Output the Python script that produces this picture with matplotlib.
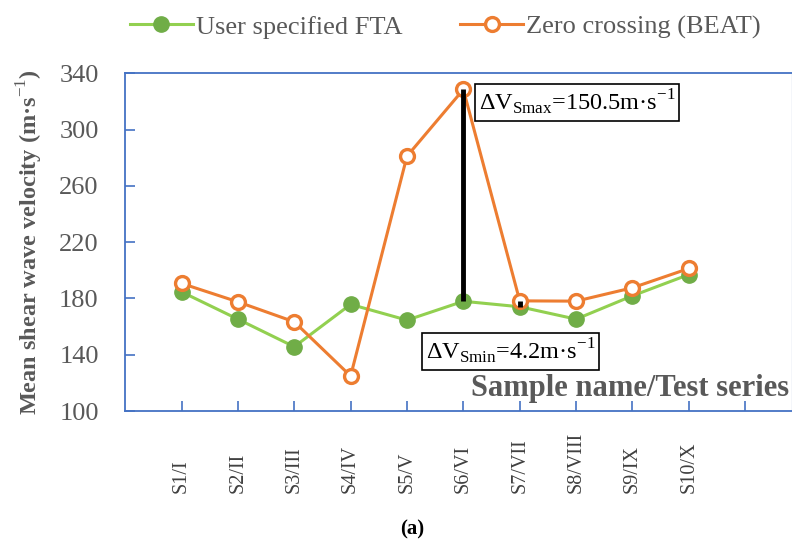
"""Mean shear wave velocity per sample -> out.png."""
import matplotlib
matplotlib.use('Agg')
import matplotlib.pyplot as plt

plt.rcParams['font.family'] = ['Liberation Serif', 'DejaVu Serif']
plt.rcParams['mathtext.fontset'] = 'custom'
plt.rcParams['mathtext.rm'] = 'Liberation Serif'

samples = ['S1/I', 'S2/II', 'S3/III', 'S4/IV', 'S5/V', 'S6/VI', 'S7/VII', 'S8/VIII', 'S9/IX', 'S10/X']
fta = [184.7, 165.3, 145.7, 175.8, 164.6, 178.0, 174.1, 165.3, 181.9, 197.0]
beat = [190.7, 177.6, 163.4, 124.9, 281.1, 328.5, 178.3, 178.1, 187.6, 201.3]
yticks = [100, 140, 180, 220, 260, 300, 340]

GREY = '#595959'
BLUE = '#4472C4'
x = list(range(1, len(samples) + 1))

fig = plt.figure(figsize=(7.92, 5.43), dpi=100)
ax = fig.add_axes([0.158, 0.243, 0.842, 0.622])

ax.plot(x, fta, color='#92D050', lw=2.2, marker='o', ms=11, mfc='#70AD47', mec='#70AD47',
        label='User specified FTA', zorder=3)
ax.plot(x, beat, color='#ED7D31', lw=2.2, marker='o', ms=10, mfc='white', mec='#ED7D31', mew=2.4,
        label='Zero crossing (BEAT)', zorder=4)

# difference bars at S6 (max) and S7 (min)
i_max, i_min = 5, 6
ax.plot([x[i_max]] * 2, [fta[i_max], beat[i_max]], color='black', lw=3.5, zorder=5, solid_capstyle='butt')
ax.plot([x[i_min]] * 2, [fta[i_min], beat[i_min]], color='black', lw=3.5, zorder=5, solid_capstyle='butt')

box = dict(boxstyle='square,pad=0.15', fc='white', ec='black', lw=1.2)
ax.text(6.27, 319.5, 'ΔV$_{\\mathrm{Smax}}$=150.5m·s$^{\\mathrm{-1}}$', fontsize=17.5, ha='left', va='center',
        bbox=box, zorder=6)
ax.text(5.33, 142.5, 'ΔV$_{\\mathrm{Smin}}$=4.2m·s$^{\\mathrm{-1}}$', fontsize=17.5, ha='left', va='center',
        bbox=box, zorder=6)

ax.set_xlim(0, 11.83)
ax.set_ylim(100, 340)
ax.set_yticks(yticks)
ax.set_xticks(list(range(1, 12)))
ax.set_xticklabels(samples + [''], rotation=90, fontsize=14.5, color='#404040')
for t in ax.get_xticklabels():
    t.set_va('bottom')
ax.tick_params(axis='x', direction='in', length=7, width=1.2, color=BLUE, pad=59)
ax.tick_params(axis='y', direction='in', length=7, width=1.2, color=BLUE, pad=19, labelsize=19,
               labelcolor=GREY)
for s in ['left', 'bottom', 'top']:
    ax.spines[s].set_color(BLUE)
    ax.spines[s].set_linewidth(1.3)
ax.spines['right'].set_color('#c8d3ea')
ax.spines['right'].set_linewidth(1.0)

ax.set_ylabel('Mean shear wave velocity (m·s$^{\\mathrm{-1}}$)', fontsize=17.5, fontweight='bold',
              color=GREY, labelpad=10)
ax.text(0.995, 0.068, 'Sample name/Test series', transform=ax.transAxes, ha='right', va='center',
        fontsize=22, fontweight='bold', color=GREY)

fig.legend(loc='center', bbox_to_anchor=(0.562, 0.95), ncol=2, frameon=False, fontsize=19,
           handlelength=2.4, handletextpad=0.1, columnspacing=2.2, labelcolor=GREY)
fig.text(0.52, 0.025, '(a)', fontsize=15, fontweight='bold', ha='center', va='center')

fig.savefig('out.png', dpi=100)
